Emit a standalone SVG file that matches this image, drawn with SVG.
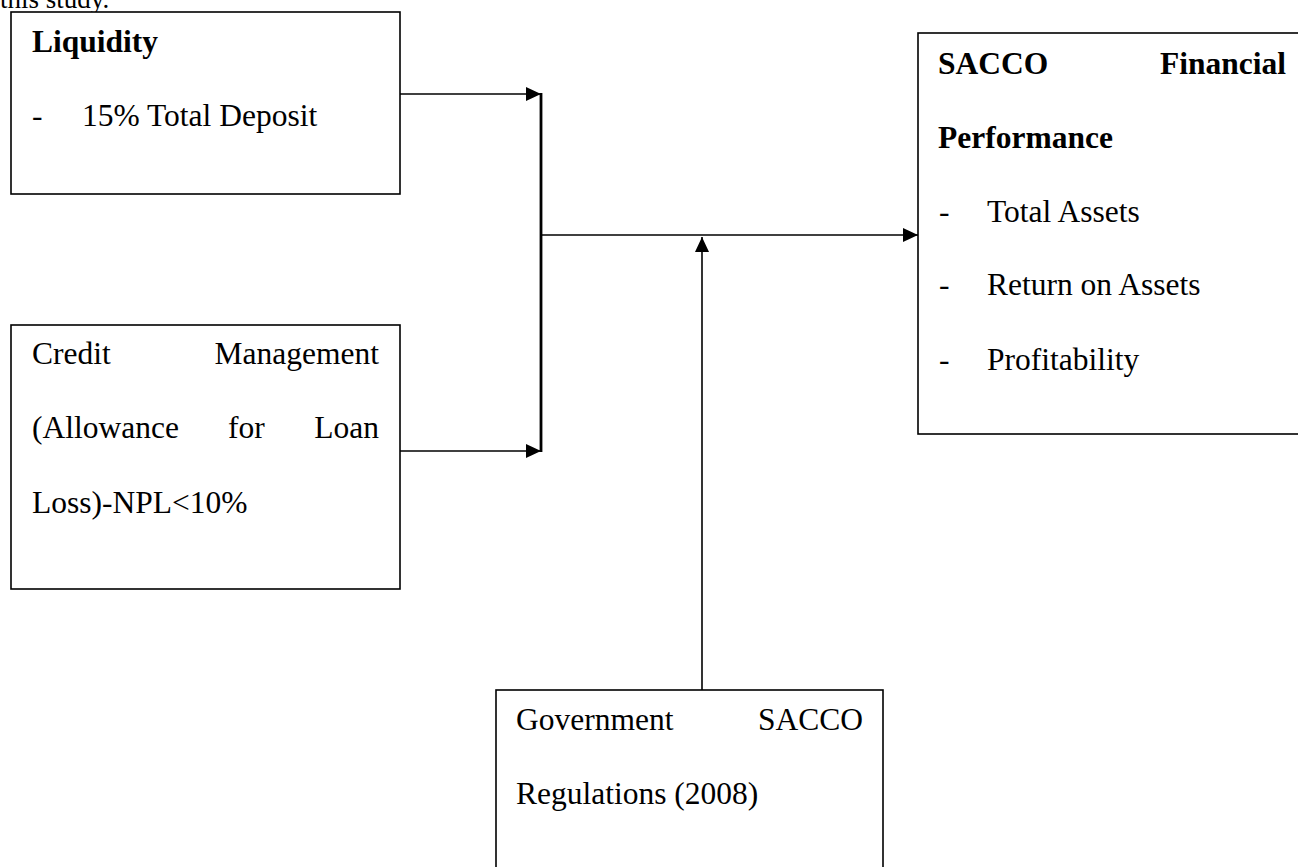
<svg xmlns="http://www.w3.org/2000/svg" width="1298" height="867" viewBox="0 0 1298 867">
<style>
text{font-family:"Liberation Serif","Times New Roman",serif;font-size:31.5px;fill:#000}
.b{font-weight:bold}
.box{fill:#fff;stroke:#000;stroke-width:1.6}
.ln{fill:none;stroke:#000;stroke-width:1.6}
.thick{fill:none;stroke:#000;stroke-width:2.8}
</style>
<defs>
<marker id="ah" markerWidth="16" markerHeight="14" refX="15" refY="7" orient="auto" markerUnits="userSpaceOnUse">
<path d="M0,0 L15,7 L0,14 Z" fill="#000"/>
</marker>
</defs>
<rect width="1298" height="867" fill="#fff"/>
<text x="0" y="8" style="font-size:27px">this study.</text>
<g id="liquidity">
<rect class="box" x="11" y="12" width="389" height="182"/>
<text class="b" x="32" y="52">Liquidity</text>
<text x="32" y="126">-</text>
<text x="82" y="126">15% Total Deposit</text>
</g>
<g id="credit">
<rect class="box" x="11" y="325" width="389" height="264"/>
<text x="32" y="364">Credit</text>
<text x="379" y="364" text-anchor="end">Management</text>
<text x="32" y="438">(Allowance</text>
<text x="228" y="438">for</text>
<text x="379" y="438" text-anchor="end">Loan</text>
<text x="32" y="513">Loss)-NPL&lt;10%</text>
</g>
<g id="performance">
<rect class="box" x="918" y="33" width="400" height="401"/>
<text class="b" x="938" y="74">SACCO</text>
<text class="b" x="1286" y="74" text-anchor="end">Financial</text>
<text class="b" x="938" y="148">Performance</text>
<text x="939" y="222">-</text>
<text x="987" y="222">Total Assets</text>
<text x="939" y="295">-</text>
<text x="987" y="295">Return on Assets</text>
<text x="939" y="370">-</text>
<text x="987" y="370">Profitability</text>
</g>
<g id="government">
<rect class="box" x="496" y="690" width="387" height="200"/>
<text x="516" y="730">Government</text>
<text x="863" y="730" text-anchor="end">SACCO</text>
<text x="516" y="804">Regulations (2008)</text>
</g>
<g id="connectors">
<line class="ln" x1="400" y1="94" x2="541" y2="94" marker-end="url(#ah)"/>
<line class="ln" x1="400" y1="451" x2="541" y2="451" marker-end="url(#ah)"/>
<line class="thick" x1="541" y1="93" x2="541" y2="452"/>
<line class="ln" x1="541" y1="235" x2="918" y2="235" marker-end="url(#ah)"/>
<line class="ln" x1="702" y1="690" x2="702" y2="237" marker-end="url(#ah)"/>
</g>
</svg>
